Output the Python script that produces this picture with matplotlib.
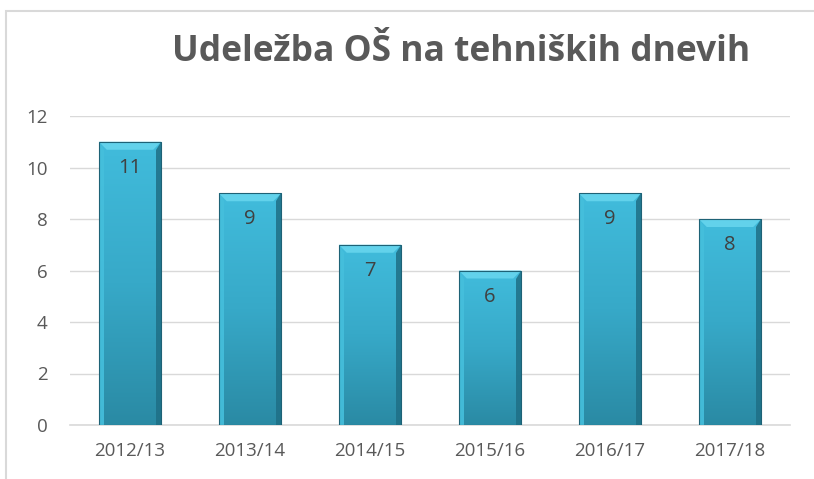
import matplotlib
matplotlib.use("Agg")
import matplotlib.pyplot as plt
import numpy as np
from matplotlib.patches import Polygon, Rectangle
from matplotlib.colors import LinearSegmentedColormap

categories = ["2012/13", "2013/14", "2014/15", "2015/16", "2016/17", "2017/18"]
values = [11, 9, 7, 6, 9, 8]
title = "Udeležba OŠ na tehniških dnevih"
yticks = [0, 2, 4, 6, 8, 10, 12]

plt.rcParams['font.family'] = ['Open Sans', 'DejaVu Sans']

W, H = 814, 479
fig = plt.figure(figsize=(W / 100, H / 100), dpi=100)
ax = fig.add_axes([70 / W, 1 - 425 / H, 720 / W, 309 / H])

# figure border
fig.add_artist(Rectangle((6 / W, -0.1), 1.2, (1 - 10.5 / H) + 0.1,
                         transform=fig.transFigure, fill=False,
                         edgecolor='#d9d9d9', linewidth=1.5))

x = np.arange(len(categories))
bw = 0.52
ax.set_xlim(-0.5, len(categories) - 0.5)
ax.set_ylim(0, 12)

bars = ax.bar(x, values, width=bw, color='none', edgecolor='none', zorder=3)

cmap = LinearSegmentedColormap.from_list('b', ['#2a8aa4', '#37a9c8', '#41bcdc'])
grad = np.linspace(0, 1, 256).reshape(-1, 1)

px_x = 1.0 / 120.0   # data per pixel in x
px_y = 12.0 / 309.0  # data per pixel in y
bev = 8

for xi, v, b in zip(x, values, bars):
    x0, x1 = xi - bw / 2, xi + bw / 2
    im = ax.imshow(grad, extent=[x0, x1, 0, v], origin='lower', cmap=cmap,
                   aspect='auto', zorder=3)
    im.set_clip_path(b)
    dx, dy = bev * px_x, bev * px_y
    # top bevel
    ax.add_patch(Polygon([[x0, v], [x1, v], [x1 - dx, v - dy], [x0 + dx, v - dy]],
                         closed=True, facecolor='#62d2eb', edgecolor='none', zorder=4))
    # right bevel
    ax.add_patch(Polygon([[x1, v], [x1, 0], [x1 - dx * 0.6, 0], [x1 - dx * 0.6, v - dy]],
                         closed=True, facecolor='#1f6f86', edgecolor='none', zorder=4, alpha=0.85))
    # left bevel
    ax.add_patch(Polygon([[x0, v], [x0, 0], [x0 + dx * 0.6, 0], [x0 + dx * 0.6, v - dy]],
                         closed=True, facecolor='#45bfdc', edgecolor='none', zorder=4, alpha=0.9))
    ax.add_patch(Rectangle((x0, 0), bw, v, fill=False, edgecolor='#1e6276',
                           linewidth=0.8, zorder=5))
    ax.text(xi, v - 26 * px_y, str(v), ha='center', va='center',
            fontsize=14.5, color='#404040', zorder=6)

ax.set_yticks(yticks)
ax.set_xticks(x)
ax.set_xticklabels(categories)
ax.tick_params(axis='both', length=0, labelsize=13.5, colors='#595959')
ax.tick_params(axis='x', pad=12)
ax.tick_params(axis='y', pad=16)
ax.yaxis.grid(True, color='#d9d9d9', linewidth=1, zorder=0)
ax.set_axisbelow(True)
for s in ['top', 'right', 'left']:
    ax.spines[s].set_visible(False)
ax.spines['bottom'].set_color('#d9d9d9')
ax.spines['bottom'].set_linewidth(1.2)

fig.text(461 / W, 1 - 52 / H, title, ha='center', va='center', fontsize=25.5,
         fontweight='bold', color='#595959')

fig.savefig('out.png', dpi=100)
